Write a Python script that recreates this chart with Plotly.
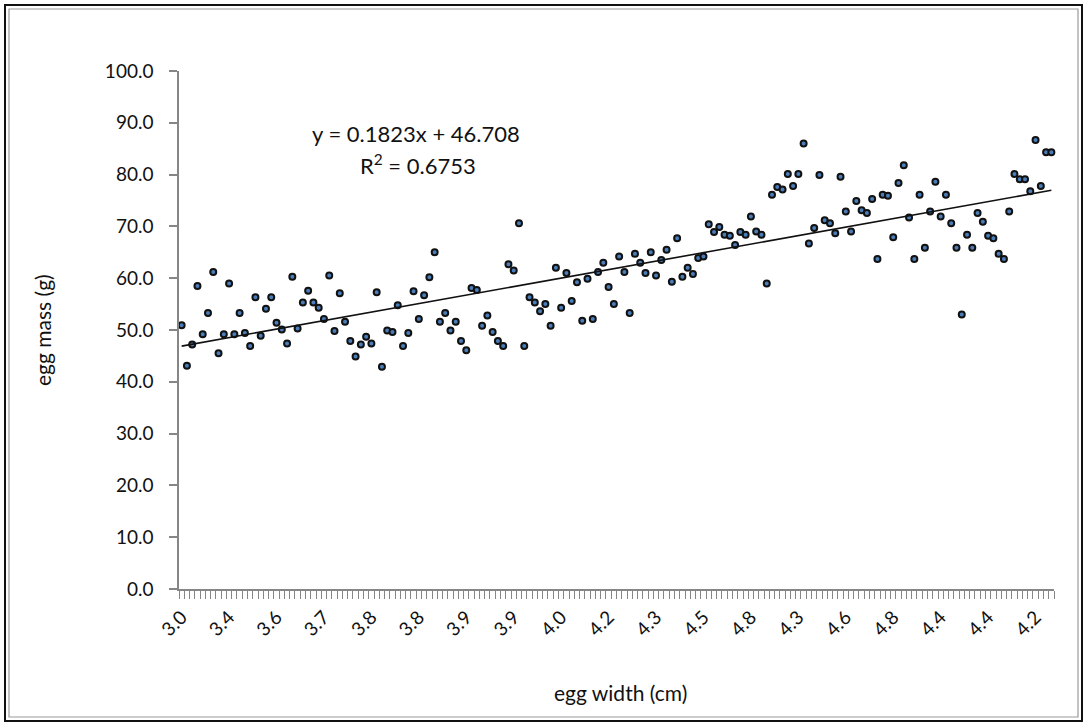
import plotly.graph_objects as go

# Egg mass (g) for each egg, in the order measured
egg_mass = [
    50.9, 43.1, 47.2, 58.5, 49.2, 53.3, 61.2, 45.5, 49.2, 59.0,
    49.2, 53.3, 49.4, 46.9, 56.3, 48.9, 54.1, 56.3, 51.4, 50.1,
    47.4, 60.3, 50.3, 55.3, 57.6, 55.3, 54.3, 52.1, 60.5, 49.8,
    57.1, 51.6, 47.9, 44.9, 47.2, 48.7, 47.4, 57.3, 42.9, 49.9,
    49.6, 54.8, 46.9, 49.4, 57.5, 52.1, 56.7, 60.2, 65.0, 51.6,
    53.3, 49.9, 51.6, 47.9, 46.1, 58.1, 57.7, 50.8, 52.8, 49.6,
    47.9, 46.9, 62.7, 61.5, 70.6, 46.9, 56.3, 55.3, 53.6, 55.0,
    50.8, 62.0, 54.3, 61.0, 55.6, 59.2, 51.8, 59.9, 52.1, 61.2,
    63.0, 58.3, 55.0, 64.2, 61.2, 53.3, 64.7, 63.0, 61.0, 65.0,
    60.5, 63.5, 65.5, 59.3, 67.7, 60.3, 62.0, 60.8, 63.9, 64.2,
    70.4, 68.9, 69.9, 68.4, 68.2, 66.4, 68.9, 68.4, 71.9, 69.0,
    68.4, 59.0, 76.1, 77.6, 77.1, 80.1, 77.8, 80.1, 86.0, 66.7,
    69.7, 79.9, 71.2, 70.6, 68.7, 79.6, 72.9, 69.0, 74.9, 73.1,
    72.6, 75.3, 63.7, 76.1, 75.9, 67.9, 78.4, 81.8, 71.7, 63.7,
    76.1, 65.9, 72.9, 78.6, 71.9, 76.1, 70.6, 65.9, 53.0, 68.4,
    65.9, 72.6, 70.9, 68.2, 67.7, 64.7, 63.7, 72.9, 80.1, 79.1,
    79.1, 76.8, 86.7, 77.8, 84.3, 84.3,
]
egg_index = list(range(1, len(egg_mass) + 1))

# Egg width (cm) shown on every ninth category
width_labels = ["3.0", "3.4", "3.6", "3.7", "3.8", "3.8", "3.9", "3.9", "4.0", "4.2",
                "4.3", "4.5", "4.8", "4.3", "4.6", "4.8", "4.4", "4.4", "4.2"]
label_step = 9
label_pos = [1 + i * label_step for i in range(len(width_labels))]

# Linear trend over the category index
slope, intercept = 0.1823, 46.708
r_squared = 0.6753
fit_x = [egg_index[0], egg_index[-1]]
fit_y = [slope * v + intercept for v in fit_x]

W, H = 1085, 723
ML, MR, MT, MB = 179, 31, 71, 134
PW, PH = W - ML - MR, H - MT - MB


def px(x):
    return (x - ML) / PW


def py(y):
    return (H - MB - y) / PH


FONT = "Lato, 'Open Sans', sans-serif"
AXIS = "#868686"

fig = go.Figure()
fig.add_trace(go.Scatter(
    x=egg_index, y=egg_mass, mode="markers",
    marker=dict(size=6, color="#4A7EBB", line=dict(color="#111111", width=2)),
    showlegend=False, cliponaxis=False,
))
fig.add_trace(go.Scatter(
    x=fit_x, y=fit_y, mode="lines",
    line=dict(color="#111111", width=1.6),
    showlegend=False,
))

fig.update_layout(
    width=W, height=H,
    margin=dict(l=ML, r=MR, t=MT, b=MB),
    paper_bgcolor="white", plot_bgcolor="white",
    font=dict(family=FONT, size=18, color="#111111"),
    xaxis=dict(
        range=[0.5, len(egg_mass) + 0.5], showgrid=False, zeroline=False,
        showline=True, linecolor=AXIS, linewidth=1.5,
        tickmode="array", tickvals=label_pos, ticktext=width_labels,
        tickangle=-45, ticks="", ticklabelstandoff=8,
        tickfont=dict(size=19),
        minor=dict(ticks="outside", tick0=0.5, dtick=1, ticklen=8,
                   tickcolor=AXIS, tickwidth=1, showgrid=False),
    ),
    yaxis=dict(
        range=[0, 100], dtick=10, tickformat=".1f", showgrid=False,
        zeroline=False, showline=True, linecolor=AXIS, linewidth=1.5,
        ticks="outside", ticklen=8, tickcolor=AXIS, tickwidth=1.5,
        ticklabelstandoff=12, tickfont=dict(size=19),
    ),
    annotations=[
        dict(text=f"y = {slope}x + {intercept}", x=px(416), y=py(133),
             xanchor="center", yanchor="middle",
             xref="paper", yref="paper", showarrow=False, font=dict(size=22)),
        dict(text=f"R<sup>2</sup> = {r_squared}", x=px(418), y=py(164),
             xanchor="center", yanchor="middle",
             xref="paper", yref="paper", showarrow=False, font=dict(size=22)),
        dict(text="egg mass (g)", x=px(42), y=py(330), textangle=-90,
             xanchor="center", yanchor="middle",
             xref="paper", yref="paper", showarrow=False, font=dict(size=21)),
        dict(text="egg width (cm)", x=px(620), y=py(692),
             xanchor="center", yanchor="middle",
             xref="paper", yref="paper", showarrow=False, font=dict(size=21)),
    ],
    shapes=[
        dict(type="rect", xref="paper", yref="paper",
             x0=px(5), x1=px(1082), y0=py(5), y1=py(721),
             line=dict(color="#111111", width=2)),
        dict(type="rect", xref="paper", yref="paper",
             x0=px(9), x1=px(1078), y0=py(9), y1=py(717),
             line=dict(color="#9a9a9a", width=1.2)),
    ],
)

fig.write_html("out.html")
